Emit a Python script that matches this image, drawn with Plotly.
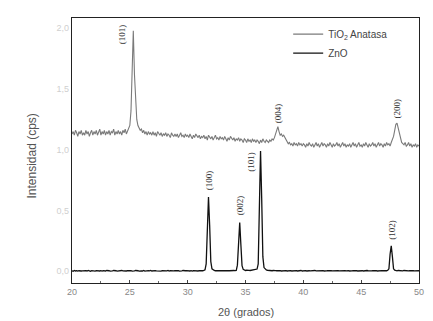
import numpy as np
import plotly.graph_objects as go

# 2-theta scan grid (step 0.1 deg, 20 -> 50)
two_theta = np.round(np.linspace(20.0, 50.0, 301), 1)

tio2_anatasa = [
    1.13, 1.15, 1.12, 1.16, 1.14, 1.11, 1.15, 1.13, 1.16, 1.12,  # 20
    1.14, 1.12, 1.16, 1.13, 1.15, 1.11, 1.14, 1.16, 1.12, 1.15,  # 21
    1.13, 1.16, 1.12, 1.14, 1.17, 1.12, 1.15, 1.13, 1.16, 1.12,  # 22
    1.15, 1.13, 1.16, 1.12, 1.15, 1.14, 1.17, 1.12, 1.15, 1.13,  # 23
    1.16, 1.13, 1.15, 1.12, 1.16, 1.14, 1.17, 1.13, 1.16, 1.18,  # 24
    1.20, 1.32, 1.70, 1.98, 1.62, 1.36, 1.25, 1.20, 1.18, 1.16,  # 25
    1.17, 1.14, 1.16, 1.13, 1.15, 1.12, 1.15, 1.13, 1.14, 1.12,  # 26
    1.15, 1.12, 1.14, 1.11, 1.15, 1.13, 1.12, 1.14, 1.11, 1.13,  # 27
    1.12, 1.14, 1.11, 1.13, 1.12, 1.10, 1.14, 1.12, 1.11, 1.13,  # 28
    1.11, 1.13, 1.10, 1.12, 1.14, 1.11, 1.12, 1.10, 1.13, 1.11,  # 29
    1.12, 1.10, 1.13, 1.11, 1.09, 1.12, 1.10, 1.13, 1.11, 1.10,  # 30
    1.12, 1.09, 1.11, 1.10, 1.12, 1.09, 1.11, 1.08, 1.12, 1.10,  # 31
    1.09, 1.11, 1.08, 1.10, 1.12, 1.09, 1.10, 1.08, 1.11, 1.09,  # 32
    1.10, 1.08, 1.11, 1.09, 1.07, 1.10, 1.08, 1.11, 1.09, 1.08,  # 33
    1.10, 1.07, 1.09, 1.08, 1.10, 1.07, 1.09, 1.08, 1.06, 1.09,  # 34
    1.08, 1.06, 1.09, 1.07, 1.08, 1.06, 1.09, 1.07, 1.08, 1.06,  # 35
    1.08, 1.07, 1.05, 1.08, 1.06, 1.09, 1.07, 1.06, 1.08, 1.07,  # 36
    1.06, 1.08, 1.07, 1.09, 1.08, 1.10, 1.13, 1.17, 1.19, 1.15,  # 37
    1.12, 1.13, 1.11, 1.12, 1.10, 1.08, 1.07, 1.05, 1.06, 1.04,  # 38
    1.05, 1.03, 1.06, 1.04, 1.05, 1.03, 1.06, 1.04, 1.05, 1.03,  # 39
    1.05, 1.04, 1.02, 1.05, 1.03, 1.06, 1.04, 1.03, 1.05, 1.02,  # 40
    1.04, 1.06, 1.03, 1.05, 1.02, 1.04, 1.06, 1.03, 1.05, 1.04,  # 41
    1.02, 1.05, 1.03, 1.06, 1.04, 1.02, 1.05, 1.03, 1.04, 1.06,  # 42
    1.03, 1.05, 1.02, 1.04, 1.06, 1.03, 1.05, 1.02, 1.04, 1.03,  # 43
    1.05, 1.02, 1.04, 1.06, 1.03, 1.05, 1.02, 1.04, 1.06, 1.03,  # 44
    1.04, 1.02, 1.05, 1.03, 1.06, 1.04, 1.02, 1.05, 1.03, 1.04,  # 45
    1.06, 1.03, 1.05, 1.02, 1.04, 1.06, 1.03, 1.05, 1.04, 1.02,  # 46
    1.05, 1.03, 1.06, 1.04, 1.05, 1.03, 1.06, 1.08, 1.11, 1.16,  # 47
    1.21, 1.22, 1.18, 1.12, 1.08, 1.06, 1.05, 1.04, 1.06, 1.03,  # 48
    1.04, 1.06, 1.03, 1.05, 1.02, 1.04, 1.03, 1.05, 1.02, 1.04,  # 49
    1.03,                                                        # 50
]

zno = [
    0.004, 0.000, 0.006, 0.002, 0.005, 0.001, 0.004, 0.006, 0.002, 0.003,  # 20
    0.005, 0.001, 0.004, 0.002, 0.006, 0.003, 0.000, 0.005, 0.002, 0.004,  # 21
    0.001, 0.005, 0.003, 0.006, 0.002, 0.004, 0.001, 0.005, 0.003, 0.002,  # 22
    0.006, 0.002, 0.004, 0.001, 0.005, 0.003, 0.006, 0.002, 0.004, 0.001,  # 23
    0.003, 0.005, 0.002, 0.006, 0.003, 0.001, 0.005, 0.002, 0.004, 0.006,  # 24
    0.002, 0.004, 0.001, 0.005, 0.003, 0.006, 0.002, 0.004, 0.001, 0.005,  # 25
    0.003, 0.002, 0.006, 0.001, 0.004, 0.002, 0.005, 0.003, 0.006, 0.002,  # 26
    0.004, 0.001, 0.005, 0.003, 0.002, 0.006, 0.004, 0.001, 0.005, 0.003,  # 27
    0.002, 0.005, 0.003, 0.006, 0.001, 0.004, 0.002, 0.005, 0.003, 0.004,  # 28
    0.006, 0.002, 0.004, 0.001, 0.005, 0.003, 0.006, 0.002, 0.004, 0.005,  # 29
    0.003, 0.006, 0.002, 0.004, 0.001, 0.005, 0.003, 0.006, 0.004, 0.002,  # 30
    0.005, 0.003, 0.006, 0.004, 0.007, 0.012, 0.060, 0.350, 0.610, 0.380,  # 31
    0.080, 0.020, 0.010, 0.006, 0.004, 0.006, 0.003, 0.005, 0.004, 0.006,  # 32
    0.003, 0.005, 0.004, 0.006, 0.003, 0.005, 0.004, 0.006, 0.005, 0.004,  # 33
    0.006, 0.005, 0.007, 0.050, 0.300, 0.400, 0.220, 0.045, 0.015, 0.008,  # 34
    0.006, 0.008, 0.005, 0.007, 0.006, 0.008, 0.006, 0.007, 0.009, 0.012,  # 35
    0.018, 0.060, 0.550, 0.990, 0.600, 0.120, 0.030, 0.015, 0.010, 0.008,  # 36
    0.006, 0.005, 0.007, 0.004, 0.006, 0.003, 0.005, 0.004, 0.006, 0.003,  # 37
    0.005, 0.002, 0.004, 0.006, 0.003, 0.005, 0.002, 0.004, 0.003, 0.005,  # 38
    0.002, 0.004, 0.006, 0.003, 0.005, 0.002, 0.004, 0.003, 0.006, 0.002,  # 39
    0.004, 0.003, 0.005, 0.002, 0.006, 0.004, 0.003, 0.005, 0.002, 0.004,  # 40
    0.006, 0.003, 0.004, 0.002, 0.005, 0.003, 0.006, 0.004, 0.002, 0.005,  # 41
    0.003, 0.004, 0.006, 0.002, 0.005, 0.003, 0.004, 0.006, 0.003, 0.002,  # 42
    0.005, 0.003, 0.004, 0.006, 0.002, 0.004, 0.005, 0.003, 0.006, 0.004,  # 43
    0.002, 0.005, 0.003, 0.004, 0.006, 0.003, 0.005, 0.002, 0.004, 0.006,  # 44
    0.003, 0.004, 0.002, 0.005, 0.003, 0.006, 0.004, 0.002, 0.005, 0.003,  # 45
    0.004, 0.006, 0.003, 0.005, 0.002, 0.004, 0.006, 0.003, 0.005, 0.004,  # 46
    0.003, 0.005, 0.004, 0.008, 0.020, 0.140, 0.210, 0.120, 0.020, 0.008,  # 47
    0.005, 0.003, 0.006, 0.004, 0.002, 0.005, 0.003, 0.006, 0.004, 0.002,  # 48
    0.005, 0.003, 0.004, 0.006, 0.002, 0.005, 0.003, 0.004, 0.006, 0.003,  # 49
    0.004,                                                                 # 50
]

# Miller-index labels: (text, 2theta, intensity)
peak_labels = ["(101)", "(004)", "(200)", "(100)", "(002)", "(101)", "(102)"]
peak_label_x = [24.4, 37.8, 48.1, 31.85, 34.55, 35.45, 47.65]
peak_label_y = [1.95, 1.30, 1.34, 0.75, 0.545, 0.90, 0.34]

x_ticks = [20, 25, 30, 35, 40, 45, 50]
y_ticks = [0.0, 0.5, 1.0, 1.5, 2.0]

fig = go.Figure()
fig.add_trace(go.Scatter(
    x=two_theta, y=tio2_anatasa, mode="lines", name="TiO<sub>2</sub> Anatasa",
    line=dict(color="#7a7a7a", width=1.1),
))
fig.add_trace(go.Scatter(
    x=two_theta, y=zno, mode="lines", name="ZnO",
    line=dict(color="#111111", width=1.3),
))

for t, xv, yv in zip(peak_labels, peak_label_x, peak_label_y):
    fig.add_annotation(
        x=xv, y=yv, text=t, showarrow=False, textangle=-90,
        font=dict(family="Liberation Serif, Times New Roman, serif", size=9, color="#333333"),
        xanchor="center", yanchor="middle",
    )

# x-axis title (placed as paper annotation to control its exact position)
fig.add_annotation(
    x=0.5, y=-0.11, xref="paper", yref="paper", text="2θ (grados)",
    showarrow=False, xanchor="center", yanchor="middle",
    font=dict(family="Liberation Sans, Arial, sans-serif", size=11, color="#555555"),
)
# y-axis title
fig.add_annotation(
    x=-0.116, y=0.48, xref="paper", yref="paper", text="Intensidad (cps)",
    showarrow=False, xanchor="center", yanchor="middle", textangle=-90,
    font=dict(family="Liberation Sans, Arial, sans-serif", size=12, color="#555555"),
)

fig.update_layout(
    width=433, height=321,
    margin=dict(l=72, r=14, t=18, b=38),
    paper_bgcolor="white", plot_bgcolor="white",
    separators=",.",
    showlegend=True,
    legend=dict(
        x=0.623, y=0.994, xanchor="left", yanchor="top",
        bgcolor="rgba(0,0,0,0)", borderwidth=0,
        font=dict(family="Liberation Sans, Arial, sans-serif", size=10, color="#444444"),
        tracegroupgap=0, itemwidth=30,
    ),
    font=dict(family="Liberation Sans, Arial, sans-serif"),
)

fig.update_xaxes(
    range=[20, 50], tickvals=x_ticks, ticktext=[str(v) for v in x_ticks],
    automargin=False,
    showgrid=False, zeroline=False,
    showline=True, linecolor="#222222", linewidth=1.3, mirror=True,
    ticks="inside", ticklen=3, tickwidth=1, tickcolor="#444444",
    minor=dict(dtick=2.5, ticks="inside", ticklen=2, tickcolor="#666666", showgrid=False),
    tickfont=dict(size=9, color="#888888"),
)
fig.update_yaxes(
    range=[-0.097, 2.085], tickvals=y_ticks, tickformat=".1f",
    automargin=False,
    showgrid=False, zeroline=False,
    showline=True, linecolor="#222222", linewidth=1.3, mirror=True,
    ticks="", tickfont=dict(size=9, color="#cfcfcf"),
)

fig.write_html(
    "out.html",
    config={"displayModeBar": False},
    post_script="document.body.style.margin='0';document.body.style.overflow='hidden';",
)
